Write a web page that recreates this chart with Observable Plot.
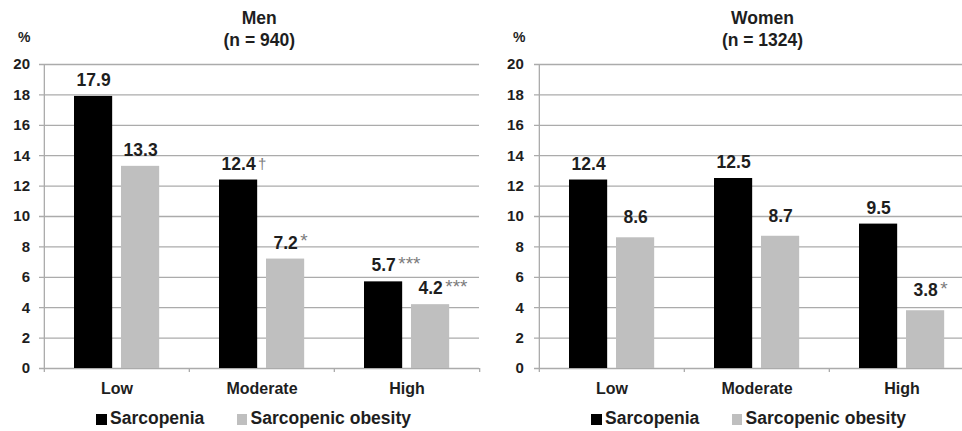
<!DOCTYPE html>
<html><head><meta charset="utf-8">
<script src="https://cdn.jsdelivr.net/npm/d3@7"></script>
<script src="https://cdn.jsdelivr.net/npm/@observablehq/plot@0.6"></script>
<style>
html,body{margin:0;padding:0;background:#fff;overflow:hidden;}
#root{position:relative;width:962px;height:431px;overflow:hidden;font-family:"Liberation Sans",Arial,sans-serif;color:#1e1e1e;font-weight:bold;}
.abs{position:absolute;white-space:nowrap;}
#root svg{position:absolute;top:0;overflow:visible;}
</style></head><body><div id="root"></div>
<script>
// ---- data ----
const categories = ["Low", "Moderate", "High"];
const seriesNames = ["Sarcopenia", "Sarcopenic obesity"];
const panelTitles = ["Men", "Women"];
const panelSubtitles = ["(n = 940)", "(n = 1324)"];
const menSarcopenia = [17.9, 12.4, 5.7];
const menObesity = [13.3, 7.2, 4.2];
const womenSarcopenia = [12.4, 12.5, 9.5];
const womenObesity = [8.6, 8.7, 3.8];
const menSarcopeniaSig = ["", "†", "***"];
const menObesitySig = ["", "*", "***"];
const womenSarcopeniaSig = ["", "", ""];
const womenObesitySig = ["", "", "*"];
const yTicks = [0, 2, 4, 6, 8, 10, 12, 14, 16, 18, 20];
const yUnit = "%";

// ---- style ----
const FONT = '"Liberation Sans", Arial, sans-serif';
const TEXT = "#1e1e1e";
const GRID = "#ababab";
const SIGCOL = "#7c7c7c";
const colors = {[seriesNames[0]]: "#000000", [seriesNames[1]]: "#bfbfbf"};
const H = 400, MT = 64, MB = 32;
const LABEL_SIZE = 17.5;

const canvas = document.createElement("canvas");
const ctx = canvas.getContext("2d");
function textWidth(s, font) { ctx.font = font; return ctx.measureText(s).width; }

const root = document.getElementById("root");

function addDiv(text, css) {
  const d = document.createElement("div");
  d.className = "abs";
  d.textContent = text;
  Object.assign(d.style, css);
  root.appendChild(d);
  return d;
}

function panel(cfg) {
  const data = [];
  categories.forEach((c, i) => {
    data.push({category: c, series: seriesNames[0], value: cfg.s[i], sig: cfg.sSig[i]});
    data.push({category: c, series: seriesNames[1], value: cfg.o[i], sig: cfg.oSig[i]});
  });
  const bw = (cfg.width - cfg.marginLeft - cfg.marginRight) / categories.length;
  const outer = 30, barW = 38.5, gap = 8.5;
  const insets = {
    [seriesNames[0]]: {insetLeft: outer, insetRight: bw - outer - barW},
    [seriesNames[1]]: {insetLeft: outer + barW + gap, insetRight: bw - outer - 2 * barW - gap}
  };
  const centerDx = {
    [seriesNames[0]]: outer + barW / 2 - bw / 2,
    [seriesNames[1]]: outer + barW + gap + barW / 2 - bw / 2
  };
  const labelDy = {[seriesNames[0]]: -10.5, [seriesNames[1]]: cfg.obesityLabelDy};

  const marks = [
    Plot.gridY(yTicks.filter(t => t > 0), {stroke: GRID, strokeOpacity: 1, strokeWidth: 1.3, insetLeft: -4}),
    Plot.ruleY([0], {stroke: GRID, strokeWidth: 1.3, insetLeft: -4}),
    Plot.ruleX([categories[0]], {y1: 0, y2: 20, dx: -bw / 2, stroke: GRID, strokeWidth: 1.3}),
    Plot.ruleX(categories, {x: d => d, y1: 0, y2: 0, insetTop: 4, dx: -bw / 2, stroke: GRID, strokeWidth: 1.3}),
    Plot.ruleX([categories[categories.length - 1]], {x: d => d, y1: 0, y2: 0, insetTop: 4, dx: bw / 2, stroke: GRID, strokeWidth: 1.3}),
    Plot.axisY({ticks: yTicks, tickSize: 0, tickPadding: cfg.tickPad, fontSize: 15, fontWeight: "bold", fill: TEXT, label: null}),
    Plot.axisX({tickSize: 0, tickPadding: 14, fontSize: 16, fontWeight: "bold", fill: TEXT, label: null})
  ];
  for (const s of seriesNames) {
    const sub = data.filter(d => d.series === s);
    marks.push(Plot.barY(sub, {x: "category", y: "value", fill: colors[s], ...insets[s]}));
    marks.push(Plot.text(sub, {
      x: "category", y: "value", text: d => d.value.toFixed(1),
      dx: centerDx[s], dy: labelDy[s], lineAnchor: "bottom",
      fontSize: LABEL_SIZE, fontWeight: "bold", fill: TEXT
    }));
    for (const d of sub.filter(d => d.sig)) {
      const w = textWidth(d.value.toFixed(1), `bold ${LABEL_SIZE}px ${FONT}`);
      const isDagger = d.sig === "†";
      marks.push(Plot.text([d], {
        x: "category", y: "value", text: "sig", textAnchor: "start",
        dx: centerDx[s] + w / 2 + 2.5,
        dy: labelDy[s] - (isDagger ? 1 : 1.5),
        lineAnchor: "bottom",
        fontSize: isDagger ? 15 : 19, fontWeight: "normal", fill: SIGCOL,
        ariaLabel: "sig"
      }));
    }
  }

  const svg = Plot.plot({
    width: cfg.width, height: H,
    marginLeft: cfg.marginLeft, marginRight: cfg.marginRight, marginTop: MT, marginBottom: MB,
    style: {fontFamily: FONT, color: TEXT, background: "transparent", overflow: "visible"},
    x: {domain: categories, padding: 0, axis: null},
    y: {domain: [0, 20], axis: null},
    marks
  });
  d3.select(svg).selectAll('g[aria-label="sig"] text').attr("letter-spacing", "2px");
  svg.style.left = cfg.left + "px";
  root.appendChild(svg);

  // titles
  addDiv(cfg.title, {left: cfg.titleX + "px", top: "8.3px", transform: "translateX(-50%)", fontSize: "17.5px", lineHeight: "21.3px", textAlign: "center"});
  addDiv(cfg.subtitle, {left: cfg.titleX + "px", top: "29.6px", transform: "translateX(-50%)", fontSize: "17.5px", lineHeight: "21.3px", textAlign: "center"});
  addDiv(yUnit, {left: cfg.unitX + "px", top: "28.9px", transform: "translateX(-50%)", fontSize: "14px", lineHeight: "16px"});

  // legend
  const lx = cfg.left + cfg.marginLeft + 53;
  const offsets = [0, 140.5];
  seriesNames.forEach((s, i) => {
    const sq = document.createElement("div");
    sq.className = "abs";
    Object.assign(sq.style, {left: (lx + offsets[i]) + "px", top: "414px", width: "10.5px", height: "10.5px", background: colors[s]});
    root.appendChild(sq);
    addDiv(s, {left: (lx + offsets[i] + 14) + "px", top: "408.2px", fontSize: "17.5px", lineHeight: "20px"});
  });
}

panel({left: 0, width: 480, marginLeft: 43, marginRight: 1, tickPad: 13.5,
  s: menSarcopenia, o: menObesity, sSig: menSarcopeniaSig, oSig: menObesitySig,
  obesityLabelDy: -10.5, title: panelTitles[0], subtitle: panelSubtitles[0], titleX: 259.3, unitX: 24.2});
panel({left: 480, width: 500, marginLeft: 58, marginRight: 6, tickPad: 14.7,
  s: womenSarcopenia, o: womenObesity, sSig: womenSarcopeniaSig, oSig: womenObesitySig,
  obesityLabelDy: -14.5, title: panelTitles[1], subtitle: panelSubtitles[1], titleX: 762.5, unitX: 519.2});
</script></body></html>
